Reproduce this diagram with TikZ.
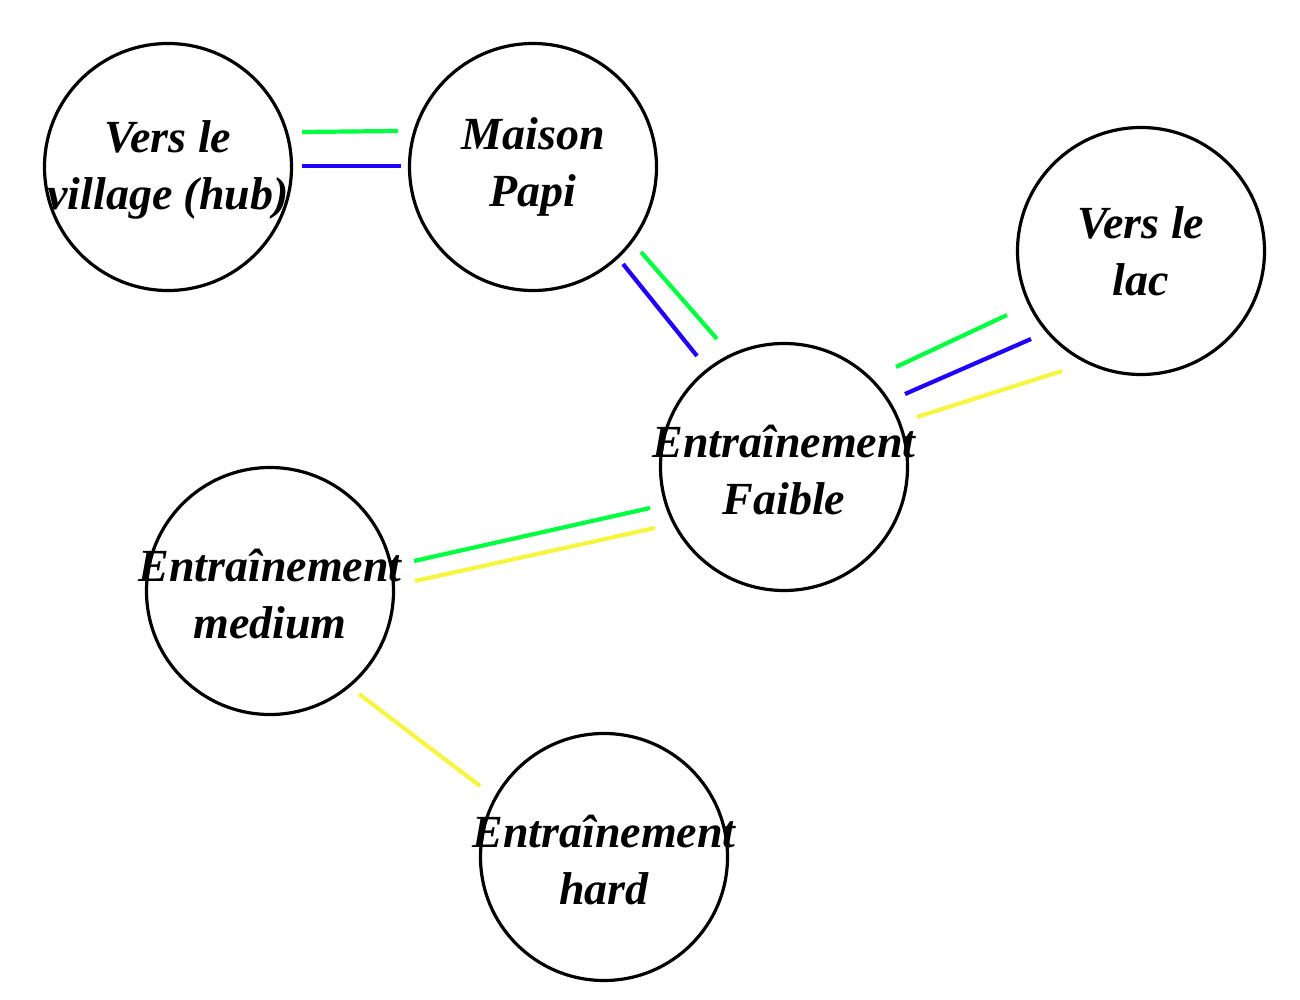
\documentclass[tikz,border=0pt]{standalone}
\usepackage{fontspec}
\setmainfont{Liberation Serif}
\definecolor{lgreen}{HTML}{00FF40}
\definecolor{lblue}{HTML}{2000FF}
\definecolor{lyellow}{HTML}{F5F542}
\begin{document}
\begin{tikzpicture}[x=1pt,y=-1pt,
  place/.style={circle,draw=black,line width=3.2pt,minimum size=247pt,inner sep=0pt},
  txt/.style={align=center,font=\fontsize{46}{57}\selectfont\bfseries\itshape},
  link/.style={line width=4.2pt},
  lg/.style={link,lgreen},
  lb/.style={link,lblue},
  ly/.style={link,lyellow}]
\useasboundingbox[fill=white] (0,0) rectangle (1300,1000);
\node[place] (v) at (168,167) {};
\node[place] (p) at (533,167) {};
\node[place] (l) at (1141,251) {};
\node[place] (f) at (784,467) {};
\node[place] (m) at (270,591) {};
\node[place] (h) at (604,857) {};
\node[txt] (vt) at ([yshift=-3]v.center) {Vers le\\village (hub)};
\node[txt] (pt) at (p) {Maison\\Papi};
\node[txt] (lt) at (l) {Vers le\\lac};
\node[txt] (ft) at ([yshift=-3]f.center) {Entraînement\\Faible};
\node[txt] (mt) at ([yshift=-3]m.center) {Entraînement\\medium};
\node[txt] (ht) at ([yshift=-3]h.center) {Entraînement\\hard};
% village -- papi
\draw[lg] ([shift={(134,-35)}]v.center) -- ([shift={(-135,-36)}]p.center);
\draw[lb] ([shift={(134,-1)}]v.center) -- ([shift={(-132,-1)}]p.center);
% papi -- faible
\draw[lg] ([shift={(108,85)}]p.center) -- ([shift={(-67,-128)}]f.center);
\draw[lb] ([shift={(90,97)}]p.center) -- ([shift={(-87,-111)}]f.center);
% faible -- lac
\draw[lg] ([shift={(112,-100)}]f.center) -- ([shift={(-134,64)}]l.center);
\draw[lb] ([shift={(121,-73)}]f.center) -- ([shift={(-110,88)}]l.center);
\draw[ly] ([shift={(133,-50)}]f.center) -- ([shift={(-79,120)}]l.center);
% medium -- faible
\draw[lg] ([shift={(144,-30)}]m.center) -- ([shift={(-134,41)}]f.center);
\draw[ly] ([shift={(145,-10)}]m.center) -- ([shift={(-129,61)}]f.center);
% medium -- hard
\draw[ly] ([shift={(89,103)}]m.center) -- ([shift={(-124,-71)}]h.center);
\end{tikzpicture}
\end{document}
